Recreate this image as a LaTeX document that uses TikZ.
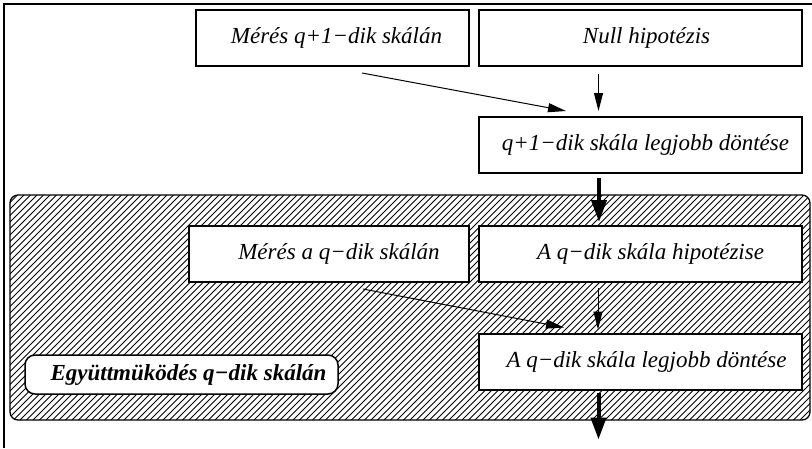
\documentclass[tikz,border=0pt]{standalone}
\usepackage{fontspec}
\setmainfont{Liberation Serif}
\usetikzlibrary{arrows.meta,calc}
\begin{document}
\begin{tikzpicture}[x=1pt,y=-1pt,
  box/.style={draw=black,line width=2pt,fill=white,minimum height=56pt,
    inner sep=0pt,font=\fontsize{23}{27}\selectfont\itshape},
  labelbox/.style={draw=black,line width=1.5pt,fill=white,rounded corners=10pt,
    minimum width=313pt,minimum height=39pt,inner sep=0pt,
    font=\fontsize{23}{27}\selectfont\bfseries\itshape},
  thinarrow/.style={line width=1pt,-{Triangle[length=18pt,width=9pt]}},
  thickarrow/.style={line width=4pt,-{Triangle[length=22pt,width=15pt]}},
  hatchline/.style={line width=0.85pt,black},
  frameline/.style={line width=1.5pt,black}]
\useasboundingbox (0,0) rectangle (812,448);

% outer frame (top and left edges)
\draw[frameline] (812,4) -- (4,4) -- (4,448);

% hatched region of the q-th scale
\begin{scope}
  \clip[rounded corners=8pt] (10,195) rectangle (810,420);
  \foreach \i in {-240,-233.5,...,820}
    \draw[hatchline] (\i,420) -- ({\i+225},195);
\end{scope}
\draw[line width=1.3pt,rounded corners=8pt] (10,195) rectangle (810,420);

% boxes of scale q+1
\node[box,minimum width=273pt] (m1) at (332.5,38) {\hspace*{8pt}Mérés q+1−dik skálán};
\node[box,minimum width=323pt] (h1) at (640.5,38) {\hspace*{12pt}Null hipotézis};
\node[box,minimum width=323pt] (d1) at (640.5,145) {\hspace*{10pt}q+1−dik skála legjobb döntése};

% boxes of scale q
\node[box,minimum width=280pt] (m2) at (329,254) {\hspace*{20pt}Mérés a q−dik skálán};
\node[box,minimum width=323pt] (h2) at (640.5,254) {\hspace*{20pt}A q−dik skála hipotézise};
\node[box,minimum width=323pt] (d2) at (640.5,361.5) {\hspace*{12pt}A q−dik skála legjobb döntése};

\node[labelbox] (lbl) at (181.5,374.5) {\hspace*{14pt}Együttmüködés q−dik skálán};

% connectors
\coordinate (out) at ($(d2.south)+(-42,49)$);
\draw[thinarrow] ($(m1.south)+(29.5,6)$) -- ($(d1.north west)+(88,-5)$);
\draw[thinarrow] ($(h1.south)+(-42,7)$) -- ($(d1.north)+(-42,-5)$);
\draw[thickarrow] ($(d1.south)+(-41.5,4)$) -- ($(h2.north)+(-41.5,-3)$);
\draw[thinarrow] ($(m2.south)+(34,6)$) -- ($(d2.north west)+(86,-5)$);
\draw[thinarrow] ($(h2.south)+(-42.5,5)$) -- ($(d2.north)+(-42.5,-3)$);
\draw[thickarrow] ($(d2.south)+(-42,2)$) -- (out);
\end{tikzpicture}
\end{document}
